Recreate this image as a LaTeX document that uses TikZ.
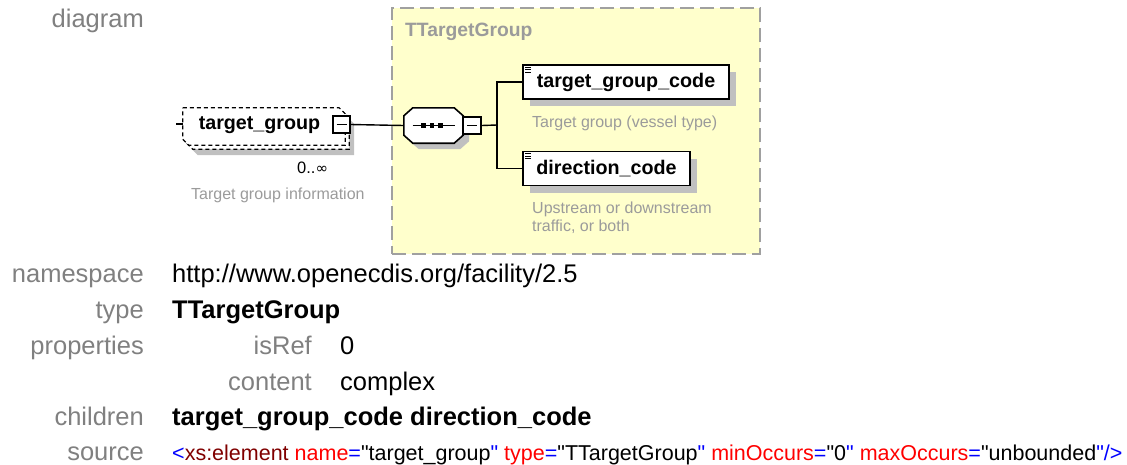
\documentclass[tikz,border=0pt]{standalone}
\usepackage{fontspec}
\setmainfont{Liberation Sans}
\newfontfamily\srcfont{Liberation Sans}
\newfontfamily\dejavu{DejaVu Sans}
\usetikzlibrary{calc}
\definecolor{lblc}{RGB}{128,128,128}
\definecolor{ybg}{RGB}{255,255,204}
\definecolor{ybd}{RGB}{160,160,160}
\definecolor{shd}{RGB}{192,192,192}
\definecolor{notec}{RGB}{155,155,155}
\definecolor{xblue}{RGB}{0,0,255}
\definecolor{xdred}{RGB}{128,0,0}
\definecolor{xred}{RGB}{255,0,0}
\tikzset{
  lbl/.style={anchor=base east, inner sep=0, text=lblc, font=\fontsize{25.5}{30}\selectfont},
  val/.style={anchor=base west, inner sep=0, font=\fontsize{25.5}{30}\selectfont},
  srcval/.style={anchor=base west, inner sep=0, font=\srcfont\fontsize{21.5}{26}\selectfont},
  elem/.style={draw=black, line width=1.6, fill=white, inner sep=0, minimum height=34,
     font=\bfseries\fontsize{19.7}{22}\selectfont},
  shadowfill/.style={fill=shd, draw=none},
  notetext/.style={anchor=base west, inner sep=0, text=notec, font=\fontsize{16}{19.5}\selectfont},
  conn/.style={line width=1.4, draw=black},
  minusbox/.style={draw=black, fill=white, line width=1.3, inner sep=0},
  dashedge/.style={draw=black, line width=1.2, dash pattern=on 4pt off 3pt, fill=white},
  docicon/.style={line width=0.8, draw=black},
}
\begin{document}
\begin{tikzpicture}[x=1pt,y=-1pt]
\useasboundingbox (0,0) rectangle (1127,464);

% ---------- complex type box ----------
\node[draw=ybd, fill=ybg, line width=1.5, dash pattern=on 14pt off 6pt,
      minimum width=368, minimum height=246, inner sep=0] (ctype) at (576,131) {};
\node[anchor=west, inner sep=0, text=notec, font=\bfseries\fontsize{19.3}{22}\selectfont] (ctname) at (405,32) {TTargetGroup};

\node[lbl] (ldiagram) at (144,27) {diagram};

% ---------- target_group element ----------
\node[minimum width=162, minimum height=37, inner sep=0] (tg) at (264,126.5) {};
\fill[shadowfill] ($(tg.north west)+(9,10)$) -- ($(tg.north east)+(3,10)$) -- ($(tg.north east)+(9,16)$)
   -- ($(tg.south east)+(9,10)$) -- ($(tg.south west)+(15,10)$) -- ($(tg.south west)+(9,4)$) -- cycle;
\draw[dashedge] ($(tg.north west)+(4,4)$) -- ($(tg.north east)+(-2,4)$) -- ($(tg.north east)+(4,10)$)
   -- ($(tg.south east)+(4,4)$) -- ($(tg.south west)+(10,4)$) -- ($(tg.south west)+(4,-2)$) -- cycle;
\draw[dashedge] (tg.north west) -- ($(tg.north east)+(-6,0)$) -- ($(tg.north east)+(0,6)$)
   -- (tg.south east) -- ($(tg.south west)+(6,0)$) -- ($(tg.south west)+(0,-6)$) -- cycle;
\coordinate (tgstub) at (176,124);
\draw[line width=1.2] (tgstub) -- ($(tg.west)+(0,-2.5)$);
\node[inner sep=0, font=\bfseries\fontsize{19.7}{22}\selectfont] (tgtext) at (259.5,125) {target\_group};
\node[minusbox, minimum width=17, minimum height=17] (tgminus) at (341.5,124.5) {};
\draw[line width=1.2] ($(tgminus.center)+(-5,0)$) -- ($(tgminus.center)+(5,0)$);
\node[anchor=base west, inner sep=0, font=\fontsize{16.5}{19}\selectfont] (tgocc) at (297,173) {0..{\dejavu\fontsize{15}{18}\selectfont ∞}};
\node[notetext] (tgnote) at (191,199) {Target group information};

% ---------- sequence compositor ----------
\node[minimum width=59, minimum height=35, inner sep=0] (seq) at (433.5,125.5) {};
\fill[shadowfill] ($(seq.north west)+(15,6)$) -- ($(seq.north east)+(-3,6)$) -- ($(seq.north east)+(6,14)$)
   -- ($(seq.south east)+(6,-2)$) -- ($(seq.south east)+(-3,6)$) -- ($(seq.south west)+(15,6)$)
   -- ($(seq.south west)+(6,-2)$) -- ($(seq.north west)+(6,14)$) -- cycle;
\draw[line width=1.6, fill=white] ($(seq.north west)+(9,0)$) -- ($(seq.north east)+(-9,0)$) -- ($(seq.north east)+(0,8)$)
   -- ($(seq.south east)+(0,-8)$) -- ($(seq.south east)+(-9,0)$) -- ($(seq.south west)+(9,0)$)
   -- ($(seq.south west)+(0,-8)$) -- ($(seq.north west)+(0,8)$) -- cycle;
\draw[line width=1.2] ($(seq.center)+(-21,0)$) -- ($(seq.center)+(21,0)$);
\foreach \dx in {-10,-1.5,7}{
  \fill ($(seq.center)+(\dx,0)+(-2.2,-2.2)$) rectangle ($(seq.center)+(\dx,0)+(2.2,2.2)$);
}
\node[minusbox, minimum width=18, minimum height=17] (seqminus) at (472,125.5) {};
\draw[line width=1.2] ($(seqminus.center)+(-5,0)$) -- ($(seqminus.center)+(5,0)$);

% ---------- child elements ----------
\fill[shadowfill] (530,72) rectangle (736,106);
\node[elem, minimum width=206] (tgc) at (626,82) {target\_group\_code};
\fill[shadowfill] (530,159) rectangle (697,193);
\node[elem, minimum width=167] (dc) at (606.5,168.5) {direction\_code};
\foreach \b in {tgc,dc}{
  \foreach \dy in {3,5.5,8}{
    \draw[docicon] ($(\b.north west)+(3,\dy)$) -- ($(\b.north west)+(9,\dy)$);
  }
}
\node[notetext] (tgcnote) at (532,127) {Target group (vessel type)};
\node[notetext] (dcnote1) at (532,213) {Upstream or downstream};
\node[notetext] (dcnote2) at (532,231) {traffic, or both};

% ---------- connectors ----------
\coordinate (fork) at (497,125);
\draw[conn] (tgminus.east) -- (seq.west);
\draw[conn] (seqminus.east) -- (fork);
\draw[conn] (fork) |- (tgc.west);
\draw[conn] (fork) |- (dc.west);

% ---------- properties table ----------
\node[lbl] (lns) at (144,282) {namespace};
\node[val] (vns) at (172,282) {http://www.openecdis.org/facility/2.5};
\node[lbl] (ltype) at (144,318) {type};
\node[val, font=\bfseries\fontsize{25.5}{30}\selectfont] (vtype) at (172,318) {TTargetGroup};
\node[lbl] (lprop) at (144,354) {properties};
\node[lbl] (lisref) at (312,354) {isRef};
\node[val] (visref) at (340,354) {0};
\node[lbl] (lcontent) at (312,390) {content};
\node[val] (vcontent) at (340,390) {complex};
\node[lbl] (lchildren) at (144,425) {children};
\node[val, font=\bfseries\fontsize{25.5}{30}\selectfont] (vchildren) at (172,425) {target\_group\_code direction\_code};
\node[lbl] (lsource) at (144,460) {source};
\node[srcval] (vsource) at (172,460) {{\color{xblue}<}{\color{xdred}xs:element} {\color{xred}name}{\color{xblue}=}"target\_group{\color{xblue}"} {\color{xred}type}{\color{xblue}=}"TTargetGroup{\color{xblue}"} {\color{xred}minOccurs}{\color{xblue}=}"0{\color{xblue}"} {\color{xred}maxOccurs}{\color{xblue}=}"unbounded{\color{xblue}"/>}};
\end{tikzpicture}
\end{document}
